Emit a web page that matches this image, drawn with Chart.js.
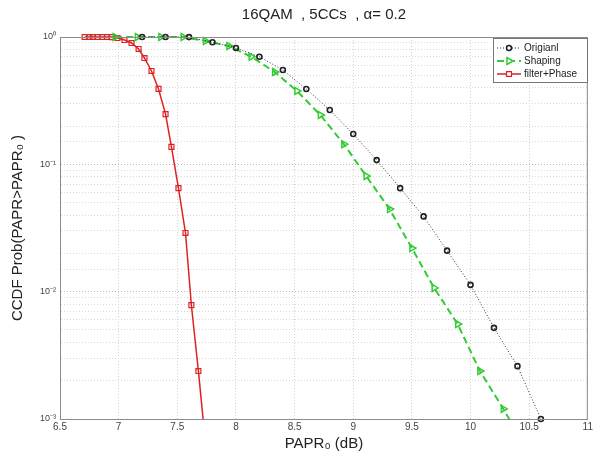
<!DOCTYPE html>
<html>
<head>
<meta charset="utf-8">
<script src="https://cdn.jsdelivr.net/npm/chart.js@4"></script>
<style>
  html, body { margin: 0; padding: 0; background: #fff; }
  #wrap { width: 595px; height: 455px; }
</style>
</head>
<body>
<div id="wrap"><canvas id="chart" width="595" height="455"></canvas></div>
<script>
// values
const origX = [7.2, 7.4, 7.6, 7.8, 8.0, 8.2, 8.4, 8.6, 8.8, 9.0, 9.2, 9.4, 9.6, 9.8, 10.0, 10.2, 10.4, 10.6];
const origY = [1.0, 1.0, 0.998, 0.91, 0.82, 0.70, 0.55, 0.39, 0.267, 0.173, 0.108, 0.065, 0.039, 0.021, 0.0113, 0.0052, 0.0026, 0.001];

const shapingX = [6.97, 7.16, 7.36, 7.55, 7.74, 7.94, 8.13, 8.33, 8.52, 8.72, 8.92, 9.11, 9.31, 9.50, 9.69, 9.89, 10.08, 10.28, 10.47];
const shapingY = [1.0, 1.0, 1.0, 0.998, 0.93, 0.85, 0.70, 0.531, 0.377, 0.244, 0.144, 0.081, 0.0445, 0.022, 0.0107, 0.00557, 0.00238, 0.0012, 0.0006];

const filterX = [6.71, 6.75, 6.78, 6.82, 6.86, 6.90, 6.94, 6.99, 7.05, 7.11, 7.17, 7.22, 7.28, 7.34, 7.40, 7.45, 7.51, 7.57, 7.62, 7.68, 7.74];
const filterY = [1.0, 1.0, 1.0, 1.0, 1.0, 1.0, 0.998, 0.982, 0.947, 0.897, 0.805, 0.684, 0.541, 0.391, 0.248, 0.137, 0.065, 0.0289, 0.00785, 0.00238, 0.00065];

const seriesNames = ["Origianl", "Shaping", "filter+Phase"];
const xTicks = [6.5, 7, 7.5, 8, 8.5, 9, 9.5, 10, 10.5, 11];
const yDecadeLabels = { 1: "10⁰", 0.1: "10⁻¹", 0.01: "10⁻²", 0.001: "10⁻³" };

const titleText = "16QAM  , 5CCs  , α= 0.2";
const xTitle = "PAPR₀ (dB)";
const yTitle = "CCDF Prob(PAPR>PAPR₀ )";

const FONT = "Arial, 'Liberation Sans', sans-serif";

function toPoints(xs, ys) {
  return xs.map((x, i) => ({ x: x, y: ys[i] }));
}

function isDecade(v) {
  const l = Math.log10(v);
  return Math.abs(l - Math.round(l)) < 1e-6;
}

// title, box and legend drawn on top of the chart
const decorPlugin = {
  id: "decor",
  afterDraw(chart) {
    const ctx = chart.ctx;
    const a = chart.chartArea;
    ctx.save();
    // box round the plot
    ctx.strokeStyle = "#8c8c8c";
    ctx.lineWidth = 1;
    ctx.strokeRect(a.left + 0.5, a.top + 0.5, a.right - a.left - 1, a.bottom - a.top);

    ctx.fillStyle = "#222";
    ctx.font = "15px " + FONT;
    ctx.textAlign = "center";
    ctx.textBaseline = "middle";
    ctx.fillText(titleText, (a.left + a.right) / 2, 15);
    ctx.fillText(xTitle, (a.left + a.right) / 2, 444);

    ctx.translate(18, (a.top + a.bottom) / 2);
    ctx.rotate(-Math.PI / 2);
    ctx.fillText(yTitle, 0, 0);
    ctx.restore();

    // legend
    ctx.save();
    const lx = 493, ly = 38, lw = 94, lh = 44;
    ctx.fillStyle = "#fff";
    ctx.fillRect(lx, ly, lw, lh);
    ctx.strokeStyle = "#777";
    ctx.lineWidth = 1;
    ctx.strokeRect(lx + 0.5, ly + 0.5, lw, lh);
    chart.data.datasets.forEach((ds, i) => {
      const y = ly + 10 + i * 13;
      ctx.strokeStyle = ds.borderColor;
      ctx.lineWidth = ds.borderWidth;
      ctx.setLineDash(ds.borderDash || []);
      ctx.beginPath();
      ctx.moveTo(lx + 4, y);
      ctx.lineTo(lx + 28, y);
      ctx.stroke();
      ctx.setLineDash([]);
      ctx.fillStyle = "#fff";
      ctx.strokeStyle = ds.pointBorderColor;
      ctx.lineWidth = ds.pointBorderWidth;
      Chart.helpers.drawPoint(ctx, {
        pointStyle: ds.pointStyle,
        rotation: ds.pointRotation || 0,
        radius: ds.pointRadius,
        borderWidth: ds.pointBorderWidth
      }, lx + 16, y);
      ctx.fillStyle = "#222";
      ctx.font = "10px " + FONT;
      ctx.textAlign = "left";
      ctx.textBaseline = "middle";
      ctx.fillText(ds.label, lx + 31, y + 0.5);
    });
    ctx.restore();
  }
};

const ctx = document.getElementById("chart");
new Chart(ctx, {
  type: "line",
  data: {
    datasets: [
      {
        label: seriesNames[0],
        data: toPoints(origX, origY),
        borderColor: "#333",
        borderWidth: 1,
        borderDash: [1, 2],
        pointStyle: "circle",
        pointRadius: 2.5,
        pointBorderWidth: 1.6,
        pointBorderColor: "#222",
        pointBackgroundColor: "rgba(0,0,0,0)",
        clip: 6
      },
      {
        label: seriesNames[1],
        data: toPoints(shapingX, shapingY),
        borderColor: "#33cc33",
        borderWidth: 2,
        borderDash: [7, 4],
        pointStyle: "triangle",
        pointRotation: 90,
        pointRadius: 4,
        pointBorderWidth: 1.5,
        pointBorderColor: "#33cc33",
        pointBackgroundColor: "rgba(0,0,0,0)",
        clip: { left: 0, top: 6, right: 0, bottom: 0 }
      },
      {
        label: seriesNames[2],
        data: toPoints(filterX, filterY),
        borderColor: "#dd2222",
        borderWidth: 1.5,
        pointStyle: "rect",
        pointRadius: 3.5,
        pointBorderWidth: 1.2,
        pointBorderColor: "#dd2222",
        pointBackgroundColor: "rgba(0,0,0,0)",
        clip: { left: 0, top: 6, right: 0, bottom: 0 }
      }
    ]
  },
  options: {
    responsive: false,
    animation: false,
    layout: { padding: { top: 37, right: 4, left: 0, bottom: 0 } },
    elements: { line: { tension: 0 } },
    plugins: {
      legend: { display: false },
      title: { display: false },
      tooltip: { enabled: false }
    },
    scales: {
      x: {
        type: "linear",
        min: 6.5,
        max: 11,
        afterFit(scale) { scale.height = 36; },
        afterBuildTicks(scale) {
          scale.ticks = xTicks.map((v) => ({ value: v }));
        },
        ticks: {
          color: "#444",
          font: { size: 10, family: FONT },
          padding: 2,
          maxRotation: 0,
          autoSkip: false,
          callback: (v) => String(v)
        },
        grid: { color: "#cfcfcf", lineWidth: 1, tickLength: 0 },
        border: { color: "#8c8c8c", dash: [1, 2] }
      },
      y: {
        type: "logarithmic",
        min: 0.001,
        max: 1,
        afterFit(scale) { scale.width = 60; },
        ticks: {
          color: "#444",
          font: { size: 9, family: FONT },
          padding: 4,
          autoSkip: false,
          callback: (v) => (isDecade(v) ? yDecadeLabels[Number(v.toPrecision(1))] : "")
        },
        grid: {
          color: (c) => (c.tick && isDecade(c.tick.value) ? "#b8b8b8" : "#dadada"),
          lineWidth: 1,
          tickLength: 0
        },
        border: { color: "#8c8c8c", dash: [1, 2] }
      }
    }
  },
  plugins: [decorPlugin]
});
</script>
</body>
</html>
